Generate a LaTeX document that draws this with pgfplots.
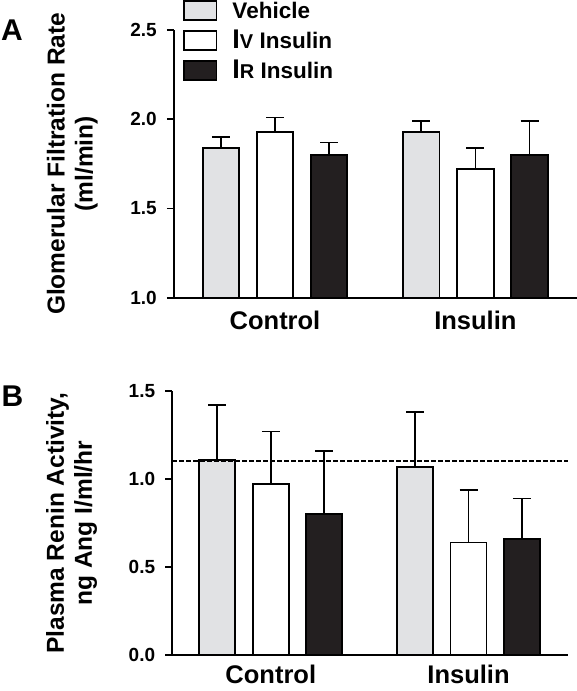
\documentclass[border=0pt]{standalone}
\usepackage{fontspec}
\setmainfont{Liberation Sans}
\usepackage{pgfplots}
\pgfplotsset{compat=1.18}
\usepackage{pgfplotstable}
\definecolor{vgray}{RGB}{225,226,228}
\definecolor{rblack}{RGB}{35,31,32}

% Panel A: GFR
\pgfplotstableread{
x y e
-0.27 1.84 0.06
0.73 1.93 0.06
}\gfrveh
\pgfplotstableread{
x y e
0.00 1.93 0.08
1.00 1.72 0.12
}\gfriv
\pgfplotstableread{
x y e
0.27 1.80 0.07
1.27 1.80 0.19
}\gfrir
% Panel B: PRA
\pgfplotstableread{
x y e
-0.27 1.11 0.31
0.73 1.07 0.31
}\praveh
\pgfplotstableread{
x y e
0.00 0.97 0.30
1.00 0.64 0.30
}\praiv
\pgfplotstableread{
x y e
0.27 0.80 0.36
1.27 0.66 0.23
}\prair

\pgfplotsset{
  mybar/.style={ybar, bar width=0.182, bar shift=0pt, draw=black, line width=1.8pt,
    error bars/y dir=plus, error bars/y explicit,
    error bars/error bar style={line width=1.8pt, black, solid},
    error bars/error mark options={rotate=90, line width=1.8pt, mark size=9pt, black}},
  common/.style={
    scale only axis, clip=false,
    axis lines=left, axis line style={-, line width=1.8pt, black},
    tick align=outside, major tick length=7pt,
    ytick style={line width=1.8pt, black},
    xtick style={draw=none},
    xtick={0,1}, xticklabels={Control,Insulin},
    xticklabel style={font=\fontsize{25.5}{25.5}\selectfont\bfseries, anchor=north, inner sep=0pt},
    yticklabel style={font=\fontsize{19}{19}\selectfont\bfseries, anchor=east, inner sep=0pt},
    /pgf/number format/fixed, /pgf/number format/fixed zerofill,
    /pgf/number format/precision=1, /pgf/number format/assume math mode=true,
    ylabel style={font=\fontsize{24.5}{28}\selectfont\bfseries, align=center,
      at={(axis description cs:0,0.5)}, anchor=south, inner sep=0pt},
  },
}

\begin{document}
\begin{tikzpicture}
\useasboundingbox (0,0) rectangle (577pt,-691pt);
\node[font=\fontsize{30}{30}\selectfont\bfseries] at (12pt,-30.5pt) {A};
\node[font=\fontsize{30}{30}\selectfont\bfseries] at (12.5pt,-396pt) {B};

\begin{axis}[common,
  at={(174pt,-297.7pt)}, anchor=south west,
  width=403pt, height=267.7pt,
  xmin=-0.504, xmax=1.507, ymin=1, ymax=2.5,
  ytick={1,1.5,2,2.5},
  xticklabel style={yshift=-6pt},
  yticklabel style={xshift=-10pt},
  ylabel={Glomerular Filtration Rate\\(ml/min)},
  ylabel style={yshift=76pt},
  legend style={at={(axis description cs:0.0223,1.112)}, anchor=north west,
    draw=none, fill=none, inner sep=0pt, row sep=9pt,
    font=\fontsize{22.5}{22.5}\selectfont\bfseries,
    nodes={inner sep=0pt, anchor=west},
    /tikz/every odd column/.append style={column sep=15pt}},
  legend image code/.code={\draw[#1, line width=1.8pt, draw=black] (0pt,-9.5pt) rectangle (32.5pt,9.5pt);},
]
\addplot[mybar, fill=vgray] table[x=x, y=y, y error=e]{\gfrveh};
\addlegendentry{Vehicle}
\addplot[mybar, fill=white] table[x=x, y=y, y error=e]{\gfriv};
\addlegendentry{{\fontsize{27}{27}\selectfont I}{\fontsize{20}{20}\selectfont V} Insulin}
\addplot[mybar, fill=rblack] table[x=x, y=y, y error=e]{\gfrir};
\addlegendentry{{\fontsize{27}{27}\selectfont I}{\fontsize{20}{20}\selectfont R} Insulin}
\end{axis}

\begin{axis}[common,
  at={(172.3pt,-655.3pt)}, anchor=south west,
  width=395.7pt, height=264.3pt,
  xmin=-0.498, xmax=1.503, ymin=0, ymax=1.5,
  ytick={0,0.5,1,1.5},
  xticklabel style={yshift=-3pt},
  yticklabel style={xshift=-10pt},
  ylabel={Plasma Renin Activity,\\ng Ang I/ml/hr},
  ylabel style={yshift=75pt},
]
\addplot[mybar, fill=vgray] table[x=x, y=y, y error=e]{\praveh};
\addplot[mybar, fill=white] table[x=x, y=y, y error=e]{\praiv};
\addplot[mybar, fill=rblack] table[x=x, y=y, y error=e]{\prair};
\addplot[black, line width=2pt, dash pattern=on 4.5pt off 2.5pt] coordinates {(-0.498,1.10) (1.503,1.10)};
\end{axis}
\end{tikzpicture}
\end{document}
